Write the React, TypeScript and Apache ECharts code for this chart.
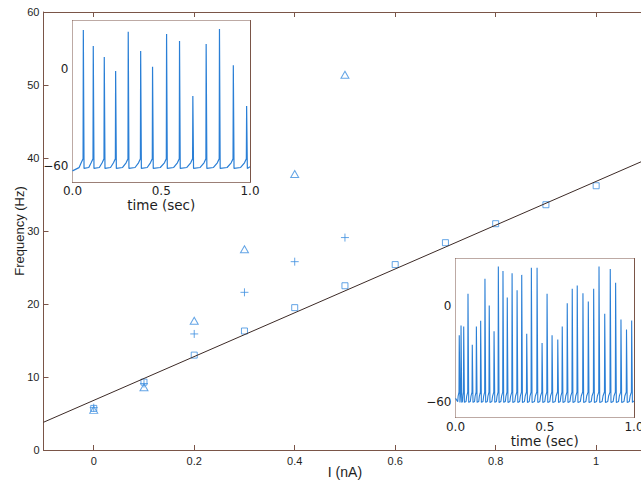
import React, { useEffect, useRef } from "react";
import * as echarts from "echarts";

// ---- main plot data ----
const mainXTicks = [0, 0.2, 0.4, 0.6, 0.8, 1];
const fitLine = [
  [-0.1, 3.8],
  [1.1, 39.8],
];
const currentsAll = [0, 0.1, 0.2, 0.3, 0.4, 0.5, 0.6, 0.7, 0.8, 0.9, 1.0];
const freqSquare = [5.7, 9.3, 13.0, 16.3, 19.5, 22.5, 25.4, 28.4, 31.0, 33.6, 36.2];
const currentsShort = [0, 0.1, 0.2, 0.3, 0.4, 0.5];
const freqPlus = [5.8, 9.1, 15.9, 21.6, 25.8, 29.1];
const freqTriangle = [5.5, 8.6, 17.7, 27.5, 37.8, 51.4];

// ---- inset data (spike times in s, peak voltage in mV) ----
const insetXTicks = [0, 0.5, 1];
const insetYTicks = [-60, 0];
const inset1SpikeTimes = [0.061, 0.117, 0.179, 0.243, 0.314, 0.384, 0.451, 0.53, 0.603, 0.678, 0.753, 0.828, 0.906, 0.981];
const inset1SpikePeaks = [24.1, 14.2, 7.4, -1.2, 23.1, 11.1, 1.4, 21.6, 17.3, -16.7, 15.5, 24.7, 2.3, -22.9];
const inset2SpikeTimes = [
  0.021, 0.031, 0.046, 0.07, 0.094, 0.117, 0.141, 0.165, 0.189, 0.216, 0.24, 0.266, 0.29, 0.317, 0.345, 0.371, 0.399,
  0.425, 0.457, 0.485, 0.513, 0.541, 0.573, 0.598, 0.626, 0.654, 0.682, 0.714, 0.744, 0.774, 0.804, 0.836, 0.867, 0.897,
  0.927, 0.958, 0.987,
];
const inset2SpikePeaks = [
  -18.3, -12.1, -12.7, 7.8, -24.2, -12.7, -9.1, 17.2, 0.4, -15.8, 25.0, 22.2, 5.4, 20.7, 10.0, 19.7, -17.3, 24.2, 24.2,
  -23.2, 7.8, -18.3, -20.9, -12.7, 1.9, 10.9, 13.0, 8.1, 2.9, 10.9, 25.0, -4.8, 23.4, 14.7, -8.3, -14.6, -9.0,
];

// membrane trace drawn from the read spike times/peaks
function buildTrace(times: number[], peaks: number[], startV: number, troughV: number, preV: number) {
  const pts: number[][] = [[0, startV]];
  let prev = 0;
  times.forEach((ts, i) => {
    const gap = ts - prev;
    if (i > 0) {
      pts.push([prev + 0.004, troughV]);
      if (gap > 0.014) pts.push([prev + gap * 0.55, troughV + 0.6]);
    } else {
      pts.push([gap * 0.6, troughV + 0.5]);
    }
    if (gap > 0.01) pts.push([ts - Math.min(0.012, gap * 0.3), preV - 2.5]);
    pts.push([ts - 0.0015, preV]);
    pts.push([ts, peaks[i]]);
    prev = ts;
  });
  pts.push([Math.min(1, prev + 0.004), troughV]);
  if (prev + 0.004 < 1) pts.push([1, troughV + 1]);
  return pts;
}

const FRAME = "#7a5548";
const BLUE = "#3d8ee0";
const TRACE = "#2a7fd6";
const LABEL = "#1e1e1e";
const MAIN_FONT = "'Liberation Sans', Arial, sans-serif";
const INSET_FONT = "'DejaVu Sans', sans-serif";

const fmtNum = (v: number) => String(Math.round(v * 10) / 10);
const fmtMinus = (v: number) => String(Math.round(v)).replace("-", "\u2212");

function mainX(pos: "bottom" | "top") {
  return {
    type: "value",
    gridIndex: 0,
    position: pos,
    min: -0.1,
    max: 1.1,
    axisLine: { show: true, onZero: false, lineStyle: { color: FRAME, width: 1 } },
    axisTick: { show: true, inside: true, length: 5, customValues: mainXTicks, lineStyle: { color: FRAME } },
    axisLabel: {
      show: pos === "bottom",
      customValues: mainXTicks,
      formatter: fmtNum,
      margin: 5,
      fontFamily: MAIN_FONT,
      fontSize: 11,
      color: LABEL,
    },
    splitLine: { show: false },
    ...(pos === "bottom"
      ? {
          name: "I (nA)",
          nameLocation: "middle",
          nameGap: 15,
          nameMoveOverlap: false,
          nameTextStyle: { fontFamily: MAIN_FONT, fontSize: 14, color: LABEL },
        }
      : {}),
  };
}

function mainY(pos: "left" | "right") {
  return {
    type: "value",
    gridIndex: 0,
    position: pos,
    min: 0,
    max: 60,
    interval: 10,
    axisLine: { show: true, onZero: false, lineStyle: { color: FRAME, width: 1 } },
    axisTick: { show: true, inside: true, length: 5, lineStyle: { color: FRAME } },
    axisLabel: {
      show: pos === "left",
      margin: 4,
      fontFamily: MAIN_FONT,
      fontSize: 11,
      color: LABEL,
    },
    splitLine: { show: false },
    ...(pos === "left"
      ? {
          name: "Frequency (Hz)",
          nameLocation: "middle",
          nameGap: 18,
          nameMoveOverlap: false,
          nameTextStyle: { fontFamily: MAIN_FONT, fontSize: 13, color: LABEL },
        }
      : {}),
  };
}

function insetX(grid: number, pos: "bottom" | "top") {
  return {
    type: "value",
    gridIndex: grid,
    position: pos,
    min: 0,
    max: 1,
    axisLine: { show: true, onZero: false, lineStyle: { color: FRAME, width: 1 } },
    axisTick: { show: true, inside: true, length: 3, customValues: insetXTicks, lineStyle: { color: FRAME } },
    axisLabel: {
      show: pos === "bottom",
      customValues: insetXTicks,
      formatter: (v: number) => v.toFixed(1),
      margin: 3,
      lineHeight: 12,
      fontFamily: INSET_FONT,
      fontSize: 12,
      color: LABEL,
    },
    splitLine: { show: false },
    ...(pos === "bottom"
      ? {
          name: "time (sec)",
          nameLocation: "middle",
          nameGap: 16,
          nameMoveOverlap: false,
          nameTextStyle: { fontFamily: INSET_FONT, fontSize: 13.5, lineHeight: 14, color: LABEL },
        }
      : {}),
  };
}

function insetY(grid: number, pos: "left" | "right") {
  return {
    type: "value",
    gridIndex: grid,
    position: pos,
    min: -70,
    max: 30,
    axisLine: { show: true, onZero: false, lineStyle: { color: FRAME, width: 1 } },
    axisTick: { show: true, inside: true, length: 3, customValues: insetYTicks, lineStyle: { color: FRAME } },
    axisLabel: {
      show: pos === "left",
      customValues: insetYTicks,
      formatter: fmtMinus,
      margin: 4,
      fontFamily: INSET_FONT,
      fontSize: 12,
      color: LABEL,
    },
    splitLine: { show: false },
  };
}

const hollow = "rgba(0,0,0,0)";

const option = {
  animation: false,
  backgroundColor: "#ffffff",
  grid: [
    { left: 43.5, top: 12, right: -5.4, bottom: 32, show: false, containLabel: false, outerBoundsMode: "none" },
    {
      left: 72.5,
      top: 20.5,
      width: 177.5,
      height: 161.7,
      show: true,
      backgroundColor: "#fff",
      borderWidth: 0,
      z: 5,
      containLabel: false,
      outerBoundsMode: "none",
    },
    {
      left: 455.5,
      top: 258.5,
      width: 178.5,
      height: 159,
      show: true,
      backgroundColor: "#fff",
      borderWidth: 0,
      z: 5,
      containLabel: false,
      outerBoundsMode: "none",
    },
  ],
  xAxis: [mainX("bottom"), mainX("top"), insetX(1, "bottom"), insetX(1, "top"), insetX(2, "bottom"), insetX(2, "top")],
  yAxis: [mainY("left"), mainY("right"), insetY(1, "left"), insetY(1, "right"), insetY(2, "left"), insetY(2, "right")],
  series: [
    {
      type: "line",
      xAxisIndex: 0,
      yAxisIndex: 0,
      data: fitLine,
      symbol: "none",
      lineStyle: { color: "#3c2a26", width: 1 },
    },
    {
      type: "scatter",
      xAxisIndex: 0,
      yAxisIndex: 0,
      data: currentsAll.map((c, i) => [c, freqSquare[i]]),
      symbol: "rect",
      symbolSize: 6,
      itemStyle: { color: hollow, borderColor: BLUE, borderWidth: 1 },
    },
    {
      type: "scatter",
      xAxisIndex: 0,
      yAxisIndex: 0,
      data: currentsShort.map((c, i) => [c, freqPlus[i]]),
      symbol: "path://M5,0V10M0,5H10",
      symbolSize: 8,
      itemStyle: { color: hollow, borderColor: BLUE, borderWidth: 1 },
    },
    {
      type: "scatter",
      xAxisIndex: 0,
      yAxisIndex: 0,
      data: currentsShort.map((c, i) => [c, freqTriangle[i]]),
      symbol: "triangle",
      symbolSize: [8, 7],
      itemStyle: { color: hollow, borderColor: BLUE, borderWidth: 1 },
    },
    {
      type: "line",
      xAxisIndex: 2,
      yAxisIndex: 2,
      data: buildTrace(inset1SpikeTimes, inset1SpikePeaks, -63, -61.5, -55.5),
      symbol: "none",
      z: 6,
      lineStyle: { color: TRACE, width: 1.2 },
    },
    {
      type: "line",
      xAxisIndex: 4,
      yAxisIndex: 4,
      data: buildTrace(inset2SpikeTimes, inset2SpikePeaks, -58, -60.5, -54),
      symbol: "none",
      z: 6,
      lineStyle: { color: TRACE, width: 1.1 },
    },
  ],
};

export default function App() {
  const ref = useRef<HTMLDivElement>(null);
  useEffect(() => {
    const chart = echarts.init(ref.current!, null, { renderer: "svg" });
    chart.setOption(option as any);
    return () => chart.dispose();
  }, []);
  return (
    <div
      ref={ref}
      style={{ position: "fixed", left: 0, top: 0, width: 641, height: 482, background: "#fff" }}
    />
  );
}
